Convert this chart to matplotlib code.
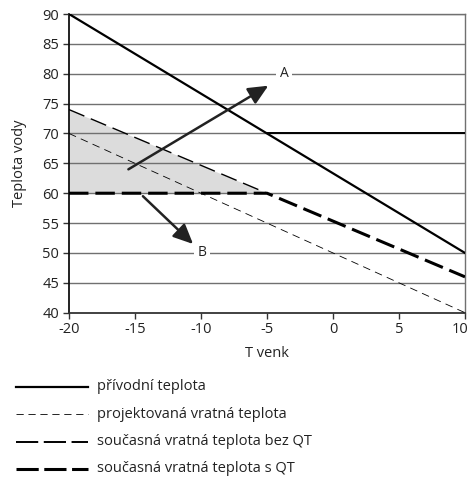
import matplotlib
matplotlib.use("Agg")
import matplotlib.pyplot as plt
from matplotlib.lines import Line2D
from matplotlib.transforms import offset_copy

plt.rcParams['font.family'] = ['Open Sans', 'DejaVu Sans']
plt.rcParams['lines.scale_dashes'] = False

# Data
t_venk = [-20, -5, 10]
privodni = [90, 70, 50]
privodni_qt_x = [-5, 10]
privodni_qt = [70, 70]
projektovana = [70, 55, 40]
bez_qt = [74, 60, 46]
s_qt = [60, 60, 46]
arrow_a = [(-15.5, 64), (-4.9, 78)]
arrow_b = [(-14.4, 59.5), (-10.6, 51.5)]
label_a = (-3.7, 80, "A")
label_b = (-9.9, 50, "B")
x_ticks = [-20, -15, -10, -5, 0, 5, 10]
y_ticks = [40, 45, 50, 55, 60, 65, 70, 75, 80, 85, 90]
legend_labels = ["přívodní teplota", "projektovaná vratná teplota",
                 "současná vratná teplota bez QT", "současná vratná teplota s QT"]

W, H = 468, 479
fig = plt.figure(figsize=(W / 100, H / 100), dpi=100)
ax = fig.add_axes([69 / W, 1 - 312.7 / H, (465 - 69) / W, (312.7 - 14) / H])
ax.set_xlim(-20, 10)
ax.set_ylim(40, 90)

grid_c = '#707070'
for y in y_ticks[1:]:
    ax.axhline(y, color=grid_c, lw=1.0, zorder=1)

# fill
ax.fill_between(t_venk[:2], s_qt[:2], bez_qt[:2], color='#dcdcdc', lw=0, zorder=0.5)

ax.plot(t_venk, privodni, color='black', lw=1.6, zorder=3)
ax.plot(privodni_qt_x, privodni_qt, color='black', lw=1.4, zorder=3)
ax.plot(t_venk, projektovana, color='black', lw=0.6, dashes=(5.5, 3.8), zorder=3)
ax.plot(t_venk[:2], bez_qt[:2], color='black', lw=1.0, dashes=(12, 5), zorder=3)
ax.plot(t_venk, s_qt, color='black', lw=2.2, dashes=(14, 5), zorder=3)

for (x0, y0), (x1, y1) in [arrow_a, arrow_b]:
    ax.annotate('', xy=(x1, y1), xytext=(x0, y0),
                arrowprops=dict(arrowstyle='-|>,head_length=1.2,head_width=0.55',
                                color='#222222', lw=1.8, shrinkA=0, shrinkB=0),
                zorder=4)

for x, y, s in [label_a, label_b]:
    ax.text(x, y, s, ha='center', va='center', fontsize=10, color='#222222',
            bbox=dict(facecolor='white', edgecolor='none', pad=2.5), zorder=5)

ax.set_xticks(x_ticks)
ax.set_xticklabels([str(v) for v in x_ticks])
ax.set_yticks(y_ticks)
ax.set_yticklabels([str(v) for v in y_ticks])
ax.tick_params(axis='both', direction='out', length=4, width=1.0, color='#333333',
               labelsize=10.5, labelcolor='#222222', pad=3)
last = ax.get_xticklabels()[-1]
last.set_transform(offset_copy(last.get_transform(), fig=fig, x=-5, units='dots'))
ax.spines['top'].set_color(grid_c)
ax.spines['top'].set_linewidth(1.0)
ax.spines['right'].set_color(grid_c)
ax.spines['right'].set_linewidth(1.0)
ax.spines['left'].set_color('#111111')
ax.spines['left'].set_linewidth(1.3)
ax.spines['bottom'].set_color('#333333')
ax.spines['bottom'].set_linewidth(1.3)

ax.set_xlabel('T venk', fontsize=10.5, color='#222222', labelpad=6)
ax.set_ylabel('Teplota vody', fontsize=10.5, color='#222222', labelpad=11)

# legend drawn manually
styles = [dict(lw=1.6), dict(lw=0.6, dashes=(5.2, 3.4)),
          dict(lw=1.4, dashes=(16, 4)), dict(lw=2.2, dashes=(16, 4))]
for i, (lab, st) in enumerate(zip(legend_labels, styles)):
    ypx = 387 + i * 27.3
    yf = 1 - ypx / H
    ln = Line2D([16 / W, 88 / W], [yf, yf], transform=fig.transFigure,
                color='black', **st)
    fig.add_artist(ln)
    fig.text(97 / W, yf, lab, fontsize=10.5, color='#222222', va='center', ha='left')

fig.savefig('out.png', dpi=100)
